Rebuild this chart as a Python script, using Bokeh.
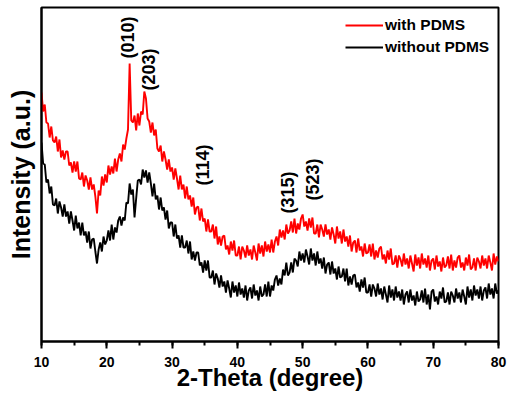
import math
from bokeh.plotting import figure
from bokeh.models import Range1d, SingleIntervalTicker, FixedTicker, Legend, LegendItem, ColumnDataSource
from bokeh.core.properties import value
from bokeh.embed import file_html
from bokeh.resources import INLINE

# 2-Theta sampling (degrees), 0.25 step
two_theta = [
    10.0, 10.25, 10.5, 10.75, 11.0, 11.25, 11.5, 11.75,
    12.0, 12.25, 12.5, 12.75, 13.0, 13.25, 13.5, 13.75,
    14.0, 14.25, 14.5, 14.75, 15.0, 15.25, 15.5, 15.75,
    16.0, 16.25, 16.5, 16.75, 17.0, 17.25, 17.5, 17.75,
    18.0, 18.25, 18.5, 18.75, 19.0, 19.25, 19.5, 19.75,
    20.0, 20.25, 20.5, 20.75, 21.0, 21.25, 21.5, 21.75,
    22.0, 22.25, 22.5, 22.75, 23.0, 23.25, 23.5, 23.75,
    24.0, 24.25, 24.5, 24.75, 25.0, 25.25, 25.5, 25.75,
    26.0, 26.25, 26.5, 26.75, 27.0, 27.25, 27.5, 27.75,
    28.0, 28.25, 28.5, 28.75, 29.0, 29.25, 29.5, 29.75,
    30.0, 30.25, 30.5, 30.75, 31.0, 31.25, 31.5, 31.75,
    32.0, 32.25, 32.5, 32.75, 33.0, 33.25, 33.5, 33.75,
    34.0, 34.25, 34.5, 34.75, 35.0, 35.25, 35.5, 35.75,
    36.0, 36.25, 36.5, 36.75, 37.0, 37.25, 37.5, 37.75,
    38.0, 38.25, 38.5, 38.75, 39.0, 39.25, 39.5, 39.75,
    40.0, 40.25, 40.5, 40.75, 41.0, 41.25, 41.5, 41.75,
    42.0, 42.25, 42.5, 42.75, 43.0, 43.25, 43.5, 43.75,
    44.0, 44.25, 44.5, 44.75, 45.0, 45.25, 45.5, 45.75,
    46.0, 46.25, 46.5, 46.75, 47.0, 47.25, 47.5, 47.75,
    48.0, 48.25, 48.5, 48.75, 49.0, 49.25, 49.5, 49.75,
    50.0, 50.25, 50.5, 50.75, 51.0, 51.25, 51.5, 51.75,
    52.0, 52.25, 52.5, 52.75, 53.0, 53.25, 53.5, 53.75,
    54.0, 54.25, 54.5, 54.75, 55.0, 55.25, 55.5, 55.75,
    56.0, 56.25, 56.5, 56.75, 57.0, 57.25, 57.5, 57.75,
    58.0, 58.25, 58.5, 58.75, 59.0, 59.25, 59.5, 59.75,
    60.0, 60.25, 60.5, 60.75, 61.0, 61.25, 61.5, 61.75,
    62.0, 62.25, 62.5, 62.75, 63.0, 63.25, 63.5, 63.75,
    64.0, 64.25, 64.5, 64.75, 65.0, 65.25, 65.5, 65.75,
    66.0, 66.25, 66.5, 66.75, 67.0, 67.25, 67.5, 67.75,
    68.0, 68.25, 68.5, 68.75, 69.0, 69.25, 69.5, 69.75,
    70.0, 70.25, 70.5, 70.75, 71.0, 71.25, 71.5, 71.75,
    72.0, 72.25, 72.5, 72.75, 73.0, 73.25, 73.5, 73.75,
    74.0, 74.25, 74.5, 74.75, 75.0, 75.25, 75.5, 75.75,
    76.0, 76.25, 76.5, 76.75, 77.0, 77.25, 77.5, 77.75,
    78.0, 78.25, 78.5, 78.75, 79.0, 79.25, 79.5, 79.75,
    80.0]

with_pdms = [
    249, 230, 237, 219, 218, 204, 215, 201,
    199, 205, 190, 202, 184, 191, 182, 190,
    190, 176, 179, 169, 180, 170, 180, 163,
    162, 169, 155, 166, 161, 152, 164, 152,
    157, 145, 128, 151, 146, 165, 156, 167,
    159, 176, 167, 175, 168, 183, 170, 182,
    188, 180, 197, 192, 203, 212, 278, 221,
    219, 226, 211, 228, 216, 230, 227, 250,
    243, 223, 220, 209, 219, 206, 212, 193,
    190, 196, 180, 190, 182, 172, 182, 170,
    174, 162, 173, 163, 152, 166, 152, 157,
    143, 155, 142, 146, 135, 144, 127, 134,
    135, 121, 133, 120, 123, 110, 122, 110,
    110, 117, 103, 115, 97, 105, 96, 105,
    106, 92, 96, 87, 100, 91, 101, 86,
    86, 95, 82, 95, 91, 84, 96, 86,
    92, 82, 96, 89, 81, 98, 88, 96,
    85, 100, 90, 97, 89, 102, 89, 100,
    105, 96, 112, 104, 111, 102, 117, 108,
    111, 120, 109, 123, 108, 118, 112, 123,
    127, 115, 120, 111, 123, 114, 124, 108,
    108, 117, 104, 117, 112, 105, 117, 107,
    112, 102, 114, 107, 98, 115, 103, 110,
    98, 112, 100, 105, 95, 106, 90, 99,
    101, 89, 103, 91, 95, 85, 98, 88,
    89, 97, 85, 98, 82, 91, 84, 93,
    95, 82, 87, 78, 91, 82, 93, 77,
    78, 86, 74, 86, 82, 75, 88, 77,
    83, 73, 86, 78, 70, 87, 76, 84,
    73, 88, 77, 83, 74, 86, 71, 81,
    83, 72, 86, 75, 80, 70, 84, 74,
    76, 85, 73, 87, 71, 81, 74, 84,
    86, 74, 79, 71, 84, 76, 87, 72,
    74, 83, 71, 84, 80, 73, 86, 76,
    83, 73, 86, 79, 71, 88, 77, 85,
    80]

without_pdms = [
    199, 178, 177, 159, 162, 148, 155, 137,
    136, 143, 128, 140, 134, 125, 137, 125,
    130, 118, 130, 121, 111, 126, 113, 119,
    106, 119, 106, 110, 99, 110, 93, 102,
    103, 90, 78, 92, 99, 90, 105, 97,
    101, 111, 101, 117, 102, 114, 109, 121,
    125, 116, 124, 121, 139, 138, 158, 147,
    152, 124, 143, 161, 162, 157, 172, 164,
    171, 159, 169, 158, 145, 158, 142, 146,
    132, 144, 131, 134, 122, 131, 113, 119,
    119, 105, 117, 103, 106, 94, 106, 94,
    94, 101, 88, 100, 82, 90, 81, 89,
    89, 76, 79, 69, 81, 71, 81, 64,
    64, 71, 57, 68, 63, 54, 66, 55,
    60, 49, 61, 53, 44, 60, 49, 56,
    45, 59, 47, 53, 44, 56, 41, 51,
    54, 43, 57, 46, 51, 41, 55, 45,
    47, 57, 45, 60, 45, 56, 51, 62,
    66, 56, 63, 57, 72, 66, 79, 66,
    69, 79, 69, 83, 81, 75, 90, 81,
    88, 79, 92, 85, 77, 93, 81, 88,
    76, 90, 78, 83, 73, 84, 68, 77,
    79, 67, 80, 68, 73, 62, 75, 64,
    65, 73, 60, 73, 56, 65, 57, 66,
    67, 54, 59, 50, 62, 54, 64, 49,
    49, 57, 45, 57, 53, 45, 58, 47,
    53, 42, 55, 47, 39, 56, 44, 52,
    41, 55, 44, 50, 41, 52, 37, 47,
    50, 39, 52, 41, 46, 36, 50, 40,
    42, 51, 39, 53, 37, 47, 32, 50,
    52, 40, 45, 37, 50, 43, 54, 39,
    40, 49, 37, 50, 46, 39, 53, 43,
    49, 39, 52, 45, 37, 55, 44, 52,
    41, 56, 46, 52, 43, 55, 41, 51,
    54, 43, 58, 47, 53, 43, 58, 48,
    51]

peak_labels = ["(010)", "(203)", "(114)", "(315)", "(523)"]
peak_pos = [23.3, 26.4, 34.8, 47.7, 51.65]
label_base = [283, 251, 156, 128, 141]

FONT = "Liberation Sans"

p = figure(width=508, height=398, output_backend="svg", toolbar_location=None,
           x_range=Range1d(10, 80), y_range=Range1d(0, 334),
           min_border_left=41, min_border_right=10, min_border_top=7, min_border_bottom=57)
p.grid.visible = False
p.outline_line_color = "black"
p.outline_line_width = 2
p.background_fill_color = "white"
p.border_fill_color = "white"

src = ColumnDataSource(dict(x=two_theta, red=with_pdms, black=without_pdms))
r_black = p.line("x", "black", source=src, line_color="black", line_width=1.9)
r_red = p.line("x", "red", source=src, line_color="#ff0000", line_width=1.9)

p.xaxis.ticker = SingleIntervalTicker(interval=10, num_minor_ticks=2)
p.xaxis.axis_line_width = 2
p.xaxis.major_tick_line_width = 2
p.xaxis.minor_tick_line_width = 2
p.xaxis.major_tick_in = 0
p.xaxis.major_tick_out = 7
p.xaxis.minor_tick_in = 0
p.xaxis.minor_tick_out = 4
p.xaxis.major_label_standoff = 8
p.xaxis.major_label_text_font = FONT
p.xaxis.major_label_text_font_style = "bold"
p.xaxis.major_label_text_font_size = "14px"
p.xaxis.major_label_text_color = "black"
p.xaxis.axis_label = "2-Theta (degree)"
p.xaxis.axis_label_text_font = FONT
p.xaxis.axis_label_text_font_style = "bold"
p.xaxis.axis_label_text_font_size = "24px"
p.xaxis.axis_label_text_color = "black"
p.xaxis.axis_label_standoff = -6

p.yaxis.ticker = FixedTicker(ticks=[])
p.yaxis.minor_tick_line_color = None
p.yaxis.major_tick_out = 0
p.yaxis.major_tick_in = 0
p.yaxis.major_label_standoff = 0
p.yaxis.axis_line_width = 2
p.yaxis.axis_label = "Intensity (a.u.)"
p.yaxis.axis_label_text_font = FONT
p.yaxis.axis_label_text_font_style = "bold"
p.yaxis.axis_label_text_font_size = "25px"
p.yaxis.axis_label_text_color = "black"
p.yaxis.axis_label_standoff = 7

lab_src = ColumnDataSource(dict(x=peak_pos, y=label_base, t=peak_labels))
p.text("x", "y", text="t", source=lab_src, angle=math.pi / 2,
       text_align="left", text_baseline="middle",
       text_font=value(FONT), text_font_style="bold", text_font_size="18px",
       text_color="black")

legend = Legend(items=[LegendItem(label="with PDMS", renderers=[r_red]),
                       LegendItem(label="without PDMS", renderers=[r_black])],
                location=(304, 285), padding=0, spacing=4, margin=0,
                glyph_width=38, glyph_height=18, label_standoff=2,
                label_text_font=FONT, label_text_font_style="bold",
                label_text_font_size="15.5px", label_text_color="black",
                border_line_color=None, background_fill_alpha=0)
p.add_layout(legend)

open("out.html", "w").write(file_html(p, INLINE))
